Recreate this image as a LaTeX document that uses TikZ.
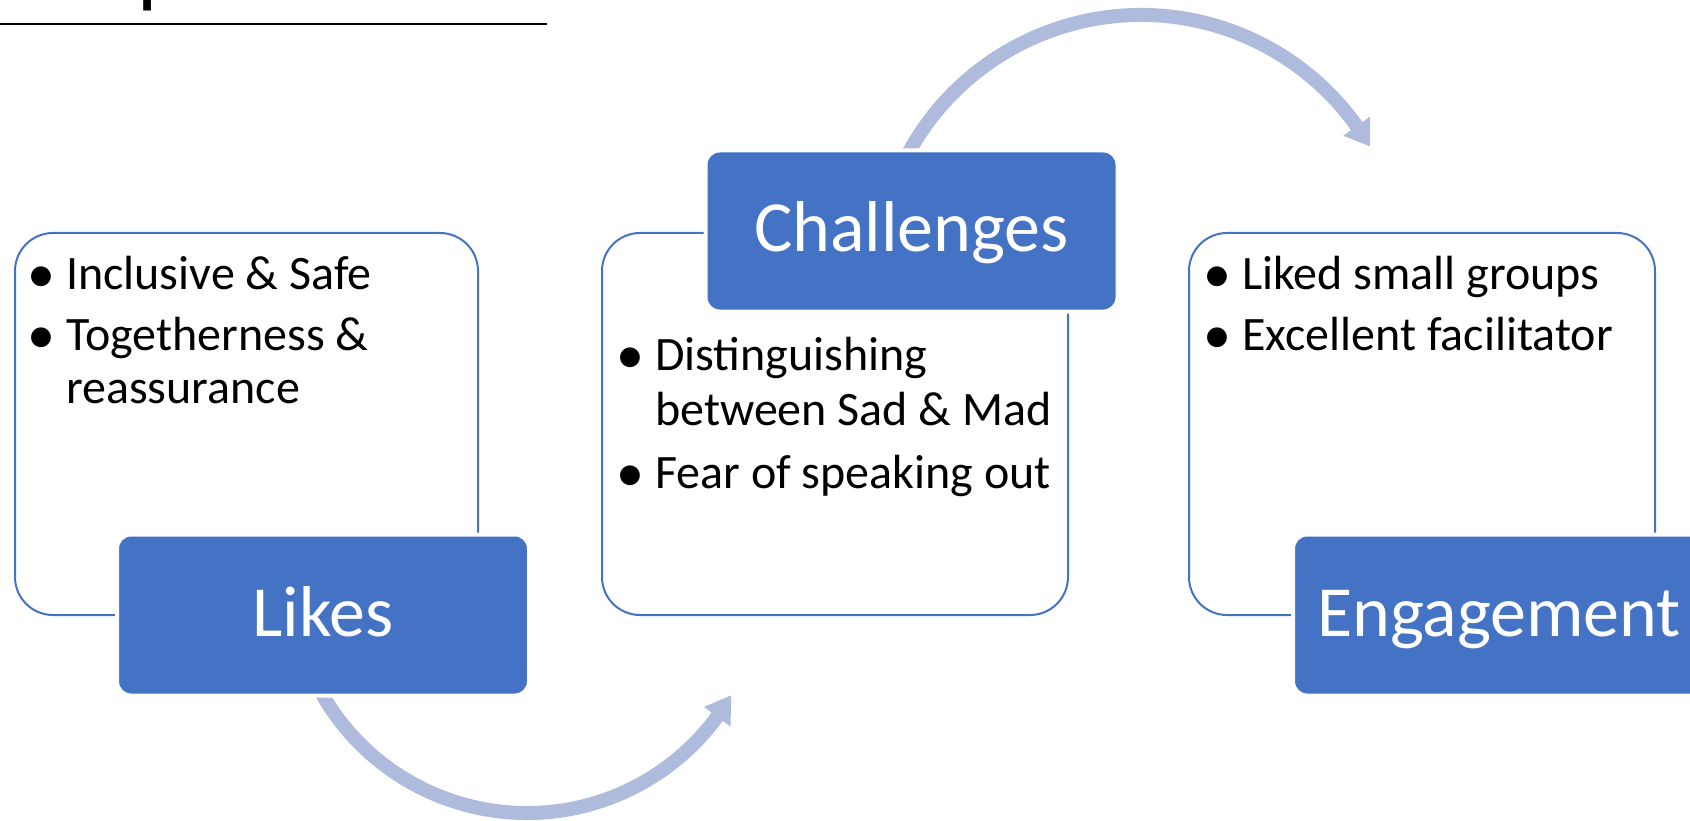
\documentclass[tikz,border=0pt]{standalone}
\usepackage{fontspec}
\setmainfont{Carlito}
\definecolor{accent}{HTML}{4472C4}
\definecolor{flowblue}{HTML}{AFBBDD}
\newcommand{\bulletmark}{\llap{\makebox[26pt][c]{\raisebox{-3pt}{\fontsize{56}{56}\selectfont\textbullet}}\hspace{12pt}}}

\begin{document}
\begin{tikzpicture}[x=1pt,y=-1pt,
  listbox/.style={draw=accent, line width=2pt, fill=white, rounded corners=38pt,
    inner sep=0pt, anchor=north west},
  headbox/.style={fill=accent, draw=white, line width=4pt, rounded corners=14pt,
    minimum width=412pt, minimum height=161pt, inner sep=0pt,
    text=white, font=\fontsize{72}{86}\selectfont, text height=46pt, text depth=4pt},
  itemtext/.style={font=\fontsize{48}{56}\selectfont, anchor=base west, inner sep=0pt},
  flow/.style={draw=flowblue, line width=14pt},
  flowhead/.style={fill=flowblue},
]
\useasboundingbox (0,0) rectangle (1690,821);

% heading rule and the tail of the slide title above it
\node[anchor=base west, inner sep=0pt, font=\fontsize{90}{100}\selectfont] (titletail) at (137,-3) {p};
\draw[line width=2.5pt] (0,24) -- (547,24);

% text panels
\node[listbox, minimum width=463pt, minimum height=382pt] (likesPanel) at (14,232) {};
\node[listbox, minimum width=466pt, minimum height=382pt] (challengesPanel) at (601,232) {};
\node[listbox, minimum width=466pt, minimum height=382pt] (engagementPanel) at (1188,232) {};

% curved flow arrows
\coordinate (lowc) at (527,577);
\coordinate (highc) at (1141,280);
\draw[flow] ([shift={(155:236)}]lowc) arc[start angle=155, end angle=36.2, radius=236];
\fill[flowhead] ([shift={(30.1:236)}]lowc) -- ([shift={(36.3:219.5)}]lowc)
  -- ([shift={(36.3:252.5)}]lowc) -- cycle;
\draw[flow] ([shift={(-155:265)}]highc) arc[start angle=-155, end angle=-35.5, radius=265];
\fill[flowhead] ([shift={(-30.3:265)}]highc) -- ([shift={(-35.5:248.5)}]highc)
  -- ([shift={(-35.5:281.5)}]highc) -- cycle;

% heading boxes
\node[headbox] (likes) at (323,615) {Likes};
\node[headbox] (challenges) at (911.5,231) {Challenges};
\node[headbox] (engagement) at (1499,615) {Engagement};

% panel items
\node[itemtext] (l1) at (66,289) {\bulletmark Inclusive \& Safe};
\node[itemtext] (l2) at (66,350) {\bulletmark Togetherness \&};
\node[itemtext] (l3) at (66,403) {reassurance};

\node[itemtext] (c1) at (655,370) {\bulletmark Distinguishing};
\node[itemtext] (c2) at (655,425) {between Sad \& Mad};
\node[itemtext] (c3) at (655,488) {\bulletmark Fear of speaking out};

\node[itemtext] (e1) at (1242,289) {\bulletmark Liked small groups};
\node[itemtext] (e2) at (1242,350) {\bulletmark Excellent facilitator};
\end{tikzpicture}
\end{document}
